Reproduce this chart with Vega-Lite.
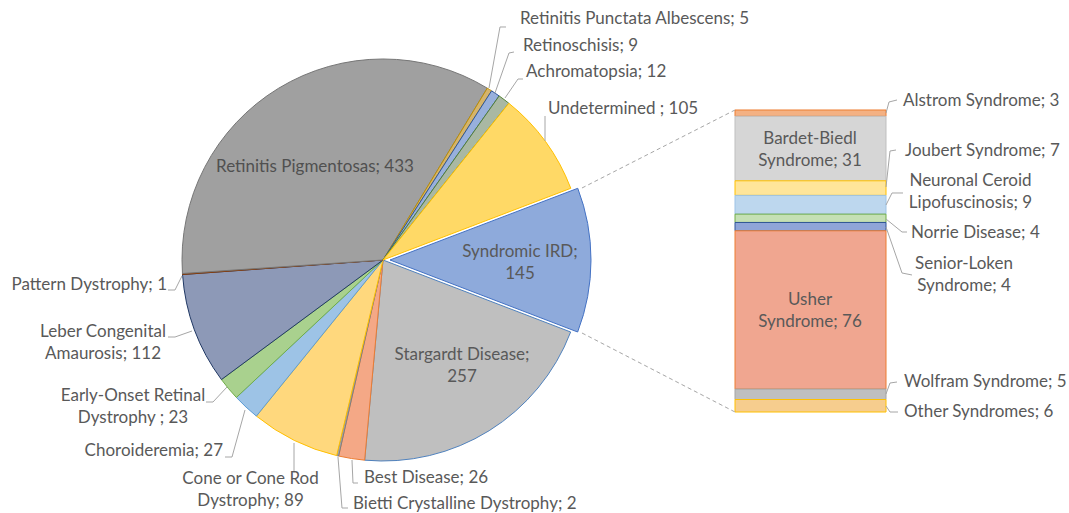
{
"$schema":"https://vega.github.io/schema/vega-lite/v6.json",
"width":1069,"height":513,"padding":0,"autosize":{"type":"none"},
"background":"white",
"config":{"view":{"stroke":null},"axis":{"disable":true},
"text":{"font":"Lato","fontSize":17,"color":"#595959","baseline":"middle","lineHeight":22,"lineBreak":"\n"},
"rule":{"color":"#a6a6a6","strokeWidth":1}},
"datasets":{
"pie":[
{"rank":1,"name":"Syndromic IRD","value":145,"label":"Syndromic IRD;\n145"},
{"rank":2,"name":"Stargardt Disease","value":257,"label":"Stargardt Disease;\n257"},
{"rank":3,"name":"Best Disease","value":26,"label":"Best Disease; 26"},
{"rank":4,"name":"Bietti Crystalline Dystrophy","value":2,"label":"Bietti Crystalline Dystrophy; 2"},
{"rank":5,"name":"Cone or Cone Rod Dystrophy","value":89,"label":"Cone or Cone Rod\nDystrophy; 89"},
{"rank":6,"name":"Choroideremia","value":27,"label":"Choroideremia; 27"},
{"rank":7,"name":"Early-Onset Retinal Dystrophy","value":23,"label":"Early-Onset Retinal\nDystrophy ; 23"},
{"rank":8,"name":"Leber Congenital Amaurosis","value":112,"label":"Leber Congenital\nAmaurosis; 112"},
{"rank":9,"name":"Pattern Dystrophy","value":1,"label":"Pattern Dystrophy; 1"},
{"rank":10,"name":"Retinitis Pigmentosas","value":433,"label":"Retinitis Pigmentosas; 433"},
{"rank":11,"name":"Retinitis Punctata Albescens","value":5,"label":"Retinitis Punctata Albescens; 5"},
{"rank":12,"name":"Retinoschisis","value":9,"label":"Retinoschisis; 9"},
{"rank":13,"name":"Achromatopsia","value":12,"label":"Achromatopsia; 12"},
{"rank":14,"name":"Undetermined","value":105,"label":"Undetermined ; 105"}
],
"syn":[
{"rank":1,"name":"Alstrom Syndrome","value":3,"label":"Alstrom Syndrome; 3"},
{"rank":2,"name":"Bardet-Biedl Syndrome","value":31,"label":"Bardet-Biedl\nSyndrome; 31"},
{"rank":3,"name":"Joubert Syndrome","value":7,"label":"Joubert Syndrome; 7"},
{"rank":4,"name":"Neuronal Ceroid Lipofuscinosis","value":9,"label":"Neuronal Ceroid\nLipofuscinosis; 9"},
{"rank":5,"name":"Norrie Disease","value":4,"label":"Norrie Disease; 4"},
{"rank":6,"name":"Senior-Loken Syndrome","value":4,"label":"Senior-Loken\nSyndrome; 4"},
{"rank":7,"name":"Usher Syndrome","value":76,"label":"Usher\nSyndrome; 76"},
{"rank":8,"name":"Wolfram Syndrome","value":5,"label":"Wolfram Syndrome; 5"},
{"rank":9,"name":"Other Syndromes","value":6,"label":"Other Syndromes; 6"}
]},
"data":{"values":[{}]},
"layer":[
{"data":{"name":"pie"},"mark":{"type":"arc","outerRadius":201,"strokeWidth":1},
"encoding":{
"x":{"datum":183.89,"type":"quantitative","scale":{"domain":[0,513.25],"nice":false,"zero":false},"axis":null},
"y":{"datum":72.98,"type":"quantitative","scale":{"domain":[-48.49,197.81],"nice":false,"zero":false},"axis":null},
"theta":{"field":"value","type":"quantitative","stack":true,"scale":{"range":[1.206,7.4892]}},
"order":{"field":"rank","type":"quantitative"},
"color":{"field":"name","type":"nominal","legend":null,"scale":{
"domain":["Syndromic IRD","Stargardt Disease","Best Disease","Bietti Crystalline Dystrophy","Cone or Cone Rod Dystrophy","Choroideremia","Early-Onset Retinal Dystrophy","Leber Congenital Amaurosis","Pattern Dystrophy","Retinitis Pigmentosas","Retinitis Punctata Albescens","Retinoschisis","Achromatopsia","Undetermined","Alstrom Syndrome","Bardet-Biedl Syndrome","Joubert Syndrome","Neuronal Ceroid Lipofuscinosis","Norrie Disease","Senior-Loken Syndrome","Usher Syndrome","Wolfram Syndrome","Other Syndromes"],
"range":["#8eaadb","#bfbfbf","#f4a886","#a6a6a6","#ffd87d","#9dc3e6","#a9d18e","#8d99b7","#c55a11","#a0a0a0","#d5b46b","#98b0dc","#a9b8a3","#ffd966","#f4b183","#d6d6d6","#ffe59a","#bdd7ee","#c5e0b4","#8fa5d8","#f0a690","#bfbfbf","#f6cd8e"]}},
"stroke":{"field":"name","type":"nominal","legend":null,"scale":{
"domain":["Syndromic IRD","Stargardt Disease","Best Disease","Bietti Crystalline Dystrophy","Cone or Cone Rod Dystrophy","Choroideremia","Early-Onset Retinal Dystrophy","Leber Congenital Amaurosis","Pattern Dystrophy","Retinitis Pigmentosas","Retinitis Punctata Albescens","Retinoschisis","Achromatopsia","Undetermined","Alstrom Syndrome","Bardet-Biedl Syndrome","Joubert Syndrome","Neuronal Ceroid Lipofuscinosis","Norrie Disease","Senior-Loken Syndrome","Usher Syndrome","Wolfram Syndrome","Other Syndromes"],
"range":["#4472c4","#4f81bd","#ed7d31","#7f7f7f","#ffc000","#5b9bd5","#70ad47","#203864","#843c0c","#767676","#bf9000","#2f5597","#548235","#ffc000","#ed7d31","#bfbfbf","#ffc000","#9dc3e6","#70ad47","#2f5597","#ed7d31","#a5a5a5","#ffc000"]}},
"opacity":{"condition":{"test":"datum.name==='Syndromic IRD'","value":0},"value":1}}},
{"data":{"name":"pie"},"mark":{"type":"arc","outerRadius":201,"strokeWidth":1},
"encoding":{
"x":{"datum":187.25,"type":"quantitative"},
"y":{"datum":72.98,"type":"quantitative"},
"theta":{"field":"value","type":"quantitative","stack":true},
"order":{"field":"rank","type":"quantitative"},
"color":{"field":"name","type":"nominal","legend":null},
"stroke":{"field":"name","type":"nominal","legend":null},
"opacity":{"condition":{"test":"datum.name==='Syndromic IRD'","value":1},"value":0}}},
{"data":{"name":"syn"},
"transform":[{"stack":"value","groupby":[],"sort":[{"field":"rank","order":"descending"}],"as":["y0","y1"]}],
"mark":{"type":"rect","strokeWidth":1},
"encoding":{
"x":{"datum":352.89,"type":"quantitative"},"x2":{"datum":425.39},
"y":{"field":"y0","type":"quantitative"},"y2":{"field":"y1"},
"color":{"field":"name","type":"nominal","legend":null},
"stroke":{"field":"name","type":"nominal","legend":null}}},
{"mark":{"type":"rule","strokeDash":[4,3]},"encoding":{"x":{"datum":279.43},"y":{"datum":107.55},"x2":{"datum":352.89},"y2":{"datum":145.0}}},
{"mark":{"type":"rule","strokeDash":[4,3]},"encoding":{"x":{"datum":279.43},"y":{"datum":37.93},"x2":{"datum":352.89},"y2":{"datum":0}}},

{"mark":"rule","encoding":{"x":{"datum":234.78},"y":{"datum":155.56},"x2":{"datum":240.06},"y2":{"datum":184.85}}},
{"mark":"rule","encoding":{"x":{"datum":240.06},"y":{"datum":184.85},"x2":{"datum":242.94},"y2":{"datum":184.85}}},
{"mark":"rule","encoding":{"x":{"datum":237.66},"y":{"datum":153.16},"x2":{"datum":244.38},"y2":{"datum":172.36}}},
{"mark":"rule","encoding":{"x":{"datum":244.38},"y":{"datum":172.36},"x2":{"datum":246.78},"y2":{"datum":172.84}}},
{"mark":"rule","encoding":{"x":{"datum":242.46},"y":{"datum":150.76},"x2":{"datum":248.70},"y2":{"datum":159.88}}},
{"mark":"rule","encoding":{"x":{"datum":248.70},"y":{"datum":159.88},"x2":{"datum":251.10},"y2":{"datum":159.88}}},
{"mark":"rule","encoding":{"x":{"datum":261.67},"y":{"datum":142.12},"x2":{"datum":261.67},"y2":{"datum":130.11}}},
{"mark":"rule","encoding":{"x":{"datum":80.66},"y":{"datum":58.57},"x2":{"datum":84.02},"y2":{"datum":58.57}}},
{"mark":"rule","encoding":{"x":{"datum":84.02},"y":{"datum":58.57},"x2":{"datum":87.38},"y2":{"datum":65.30}}},
{"mark":"rule","encoding":{"x":{"datum":80.66},"y":{"datum":36.01},"x2":{"datum":84.02},"y2":{"datum":36.01}}},
{"mark":"rule","encoding":{"x":{"datum":84.02},"y":{"datum":36.01},"x2":{"datum":92.18},"y2":{"datum":38.89}}},
{"mark":"rule","encoding":{"x":{"datum":98.90},"y":{"datum":4.80},"x2":{"datum":102.27},"y2":{"datum":4.80}}},
{"mark":"rule","encoding":{"x":{"datum":102.27},"y":{"datum":4.80},"x2":{"datum":108.99},"y2":{"datum":12.00}}},
{"mark":"rule","encoding":{"x":{"datum":108.03},"y":{"datum":-21.61},"x2":{"datum":111.39},"y2":{"datum":-21.61}}},
{"mark":"rule","encoding":{"x":{"datum":111.39},"y":{"datum":-21.61},"x2":{"datum":117.63},"y2":{"datum":0.96}}},
{"mark":"rule","encoding":{"x":{"datum":141.16},"y":{"datum":-14.88},"x2":{"datum":141.16},"y2":{"datum":-29.29}}},
{"mark":"rule","encoding":{"x":{"datum":169.00},"y":{"datum":-23.05},"x2":{"datum":169.48},"y2":{"datum":-34.09}}},
{"mark":"rule","encoding":{"x":{"datum":169.48},"y":{"datum":-34.09},"x2":{"datum":171.88},"y2":{"datum":-34.09}}},
{"mark":"rule","encoding":{"x":{"datum":162.28},"y":{"datum":-21.61},"x2":{"datum":164.20},"y2":{"datum":-46.09}}},
{"mark":"rule","encoding":{"x":{"datum":164.20},"y":{"datum":-46.09},"x2":{"datum":167.08},"y2":{"datum":-46.09}}},

{"mark":"rule","encoding":{"x":{"datum":425.39},"y":{"datum":143.56},"x2":{"datum":426.83},"y2":{"datum":148.84}}},
{"mark":"rule","encoding":{"x":{"datum":426.83},"y":{"datum":148.84},"x2":{"datum":430.67},"y2":{"datum":149.80}}},
{"mark":"rule","encoding":{"x":{"datum":425.39},"y":{"datum":108.03},"x2":{"datum":427.31},"y2":{"datum":125.31}}},
{"mark":"rule","encoding":{"x":{"datum":427.31},"y":{"datum":125.31},"x2":{"datum":430.19},"y2":{"datum":125.79}}},
{"mark":"rule","encoding":{"x":{"datum":425.39},"y":{"datum":99.38},"x2":{"datum":428.27},"y2":{"datum":105.15}}},
{"mark":"rule","encoding":{"x":{"datum":428.27},"y":{"datum":105.15},"x2":{"datum":433.55},"y2":{"datum":105.15}}},
{"mark":"rule","encoding":{"x":{"datum":425.39},"y":{"datum":92.66},"x2":{"datum":433.07},"y2":{"datum":86.42}}},
{"mark":"rule","encoding":{"x":{"datum":433.07},"y":{"datum":86.42},"x2":{"datum":435.47},"y2":{"datum":86.42}}},
{"mark":"rule","encoding":{"x":{"datum":425.39},"y":{"datum":88.82},"x2":{"datum":433.07},"y2":{"datum":66.74}}},
{"mark":"rule","encoding":{"x":{"datum":433.07},"y":{"datum":66.74},"x2":{"datum":437.87},"y2":{"datum":65.78}}},
{"mark":"rule","encoding":{"x":{"datum":425.39},"y":{"datum":8.64},"x2":{"datum":427.31},"y2":{"datum":13.92}}},
{"mark":"rule","encoding":{"x":{"datum":427.31},"y":{"datum":13.92},"x2":{"datum":430.67},"y2":{"datum":14.40}}},
{"mark":"rule","encoding":{"x":{"datum":425.39},"y":{"datum":2.88},"x2":{"datum":427.31},"y2":{"datum":0}}},
{"mark":"rule","encoding":{"x":{"datum":427.31},"y":{"datum":0},"x2":{"datum":431.15},"y2":{"datum":0}}},

{"data":{"name":"pie"},"transform":[{"filter":"datum.rank==10"}],"mark":{"type":"text","align":"center","color":"#505050"},"encoding":{"x":{"datum":151.24},"y":{"datum":117.63},"text":{"field":"label"}}},
{"data":{"name":"pie"},"transform":[{"filter":"datum.rank==1"}],"mark":{"type":"text","align":"center"},"encoding":{"x":{"datum":249.66},"y":{"datum":76.82},"text":{"field":"label"}}},
{"data":{"name":"pie"},"transform":[{"filter":"datum.rank==2"}],"mark":{"type":"text","align":"center"},"encoding":{"x":{"datum":221.82},"y":{"datum":27.37},"text":{"field":"label"}}},
{"data":{"name":"pie"},"transform":[{"filter":"datum.rank==11"}],"mark":{"type":"text","align":"left"},"encoding":{"x":{"datum":249.66},"y":{"datum":188.69},"text":{"field":"label"}}},
{"data":{"name":"pie"},"transform":[{"filter":"datum.rank==12"}],"mark":{"type":"text","align":"left"},"encoding":{"x":{"datum":251.10},"y":{"datum":175.72},"text":{"field":"label"}}},
{"data":{"name":"pie"},"transform":[{"filter":"datum.rank==13"}],"mark":{"type":"text","align":"left"},"encoding":{"x":{"datum":252.54},"y":{"datum":163.24},"text":{"field":"label"}}},
{"data":{"name":"pie"},"transform":[{"filter":"datum.rank==14"}],"mark":{"type":"text","align":"left"},"encoding":{"x":{"datum":263.11},"y":{"datum":145.48},"text":{"field":"label"}}},
{"data":{"name":"pie"},"transform":[{"filter":"datum.rank==9"}],"mark":{"type":"text","align":"right"},"encoding":{"x":{"datum":80.18},"y":{"datum":60.98},"text":{"field":"label"}}},
{"data":{"name":"pie"},"transform":[{"filter":"datum.rank==8"}],"mark":{"type":"text","align":"center"},"encoding":{"x":{"datum":49.45},"y":{"datum":38.41},"text":{"field":"label"}}},
{"data":{"name":"pie"},"transform":[{"filter":"datum.rank==7"}],"mark":{"type":"text","align":"center"},"encoding":{"x":{"datum":63.86},"y":{"datum":7.83},"text":{"field":"label"}}},
{"data":{"name":"pie"},"transform":[{"filter":"datum.rank==6"}],"mark":{"type":"text","align":"right"},"encoding":{"x":{"datum":107.07},"y":{"datum":-18.58},"text":{"field":"label"}}},
{"data":{"name":"pie"},"transform":[{"filter":"datum.rank==5"}],"mark":{"type":"text","align":"center"},"encoding":{"x":{"datum":120.27},"y":{"datum":-32.31},"text":{"field":"label"}}},
{"data":{"name":"pie"},"transform":[{"filter":"datum.rank==3"}],"mark":{"type":"text","align":"left"},"encoding":{"x":{"datum":174.76},"y":{"datum":-31.69},"text":{"field":"label"}}},
{"data":{"name":"pie"},"transform":[{"filter":"datum.rank==4"}],"mark":{"type":"text","align":"left"},"encoding":{"x":{"datum":169.48},"y":{"datum":-44.17},"text":{"field":"label"}}},

{"data":{"name":"syn"},"transform":[{"filter":"datum.rank==1"}],"mark":{"type":"text","align":"left"},"encoding":{"x":{"datum":433.55},"y":{"datum":149.32},"text":{"field":"label"}}},
{"data":{"name":"syn"},"transform":[{"filter":"datum.rank==2"}],"mark":{"type":"text","align":"center"},"encoding":{"x":{"datum":388.90},"y":{"datum":131.07},"text":{"field":"label"}}},
{"data":{"name":"syn"},"transform":[{"filter":"datum.rank==3"}],"mark":{"type":"text","align":"left"},"encoding":{"x":{"datum":434.51},"y":{"datum":125.31},"text":{"field":"label"}}},
{"data":{"name":"syn"},"transform":[{"filter":"datum.rank==4"}],"mark":{"type":"text","align":"center"},"encoding":{"x":{"datum":465.96},"y":{"datum":110.91},"text":{"field":"label"}}},
{"data":{"name":"syn"},"transform":[{"filter":"datum.rank==5"}],"mark":{"type":"text","align":"left"},"encoding":{"x":{"datum":437.39},"y":{"datum":85.94},"text":{"field":"label"}}},
{"data":{"name":"syn"},"transform":[{"filter":"datum.rank==6"}],"mark":{"type":"text","align":"center"},"encoding":{"x":{"datum":462.84},"y":{"datum":71.06},"text":{"field":"label"}}},
{"data":{"name":"syn"},"transform":[{"filter":"datum.rank==7"}],"mark":{"type":"text","align":"center"},"encoding":{"x":{"datum":388.90},"y":{"datum":53.77},"text":{"field":"label"}}},
{"data":{"name":"syn"},"transform":[{"filter":"datum.rank==8"}],"mark":{"type":"text","align":"left"},"encoding":{"x":{"datum":434.03},"y":{"datum":14.40},"text":{"field":"label"}}},
{"data":{"name":"syn"},"transform":[{"filter":"datum.rank==9"}],"mark":{"type":"text","align":"left"},"encoding":{"x":{"datum":434.03},"y":{"datum":0},"text":{"field":"label"}}}
]
}
